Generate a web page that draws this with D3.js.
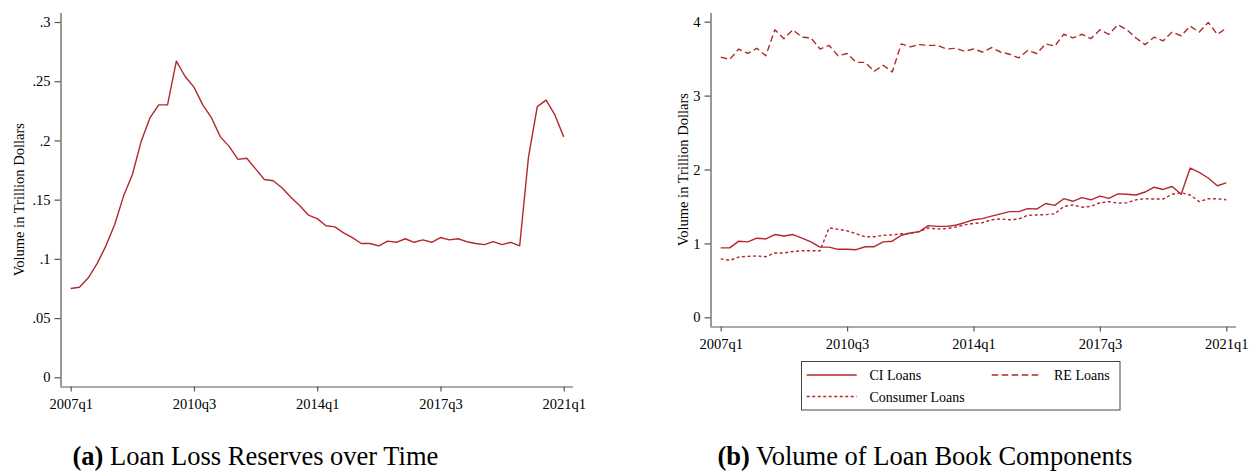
<!DOCTYPE html>
<html><head><meta charset="utf-8">
<script src="https://cdn.jsdelivr.net/npm/d3@7"></script>
<style>
body{margin:0;background:#fff;}
svg{display:block;font-family:"Liberation Serif","Times New Roman",serif;}
</style></head>
<body><svg id="c" width="1249" height="474"></svg>
<script>
const xTickLabels = ["2007q1","2010q3","2014q1","2017q3","2021q1"];
const xTickIdx = [0,14,28,42,56];
const leftYTicks = [0,0.05,0.1,0.15,0.2,0.25,0.3];
const leftYLabels = ["0",".05",".1",".15",".2",".25",".3"];
const rightYTicks = [0,1,2,3,4];

const lossReserves = [0.075,0.076,0.084,0.096,0.111,0.129,0.153,0.171,0.199,0.219,0.230,0.230,
 0.267,0.254,0.245,0.230,0.219,0.203,0.195,0.184,0.185,0.176,0.167,0.166,
 0.160,0.152,0.145,0.137,0.134,0.128,0.127,0.122,0.118,0.113,0.113,0.111,
 0.115,0.114,0.117,0.114,0.116,0.114,0.118,0.116,0.117,0.1145,0.113,0.112,
 0.1145,0.112,0.114,0.111,0.186,0.2285,0.234,0.2215,0.203];

const ciLoans = [0.94,0.94,1.03,1.02,1.07,1.06,1.12,1.10,1.12,1.07,1.02,0.95,
 0.95,0.92,0.92,0.915,0.955,0.955,1.02,1.03,1.11,1.14,1.16,1.24,
 1.23,1.23,1.245,1.28,1.32,1.335,1.37,1.40,1.43,1.43,1.47,1.465,
 1.54,1.515,1.605,1.57,1.62,1.59,1.64,1.61,1.67,1.665,1.655,1.695,
 1.76,1.73,1.77,1.665,2.02,1.96,1.885,1.78,1.82];

const reLoans = [3.52,3.49,3.63,3.57,3.64,3.54,3.89,3.77,3.89,3.79,3.78,3.63,
 3.68,3.54,3.57,3.45,3.45,3.33,3.41,3.32,3.70,3.66,3.69,3.68,
 3.68,3.63,3.64,3.60,3.63,3.59,3.65,3.59,3.56,3.51,3.61,3.57,
 3.70,3.67,3.83,3.78,3.83,3.77,3.89,3.83,3.96,3.89,3.78,3.69,
 3.79,3.74,3.86,3.81,3.94,3.86,3.99,3.83,3.91];

const consumerLoans = [0.79,0.77,0.815,0.825,0.83,0.82,0.87,0.87,0.89,0.90,0.90,0.90,
 1.21,1.19,1.17,1.13,1.09,1.09,1.11,1.115,1.13,1.135,1.16,1.21,
 1.195,1.20,1.22,1.25,1.27,1.28,1.32,1.33,1.32,1.33,1.38,1.385,
 1.39,1.40,1.50,1.52,1.49,1.50,1.55,1.565,1.545,1.55,1.59,1.605,
 1.60,1.60,1.665,1.685,1.655,1.565,1.605,1.605,1.59];

const seriesNames = ["CI Loans","RE Loans","Consumer Loans"];
const captions = [["(a)"," Loan Loss Reserves over Time"],["(b)"," Volume of Loan Book Components"]];

const RED = "#b3282d";
const AX = "#555";
const FS = "14.5px";
const svg = d3.select("#c");

function panel(cfg){
  const g = svg.append("g");
  const x = d3.scaleLinear().domain([0,56]).range([cfg.x0,cfg.x1]);
  const y = d3.scaleLinear().domain(cfg.ydom).range([cfg.y0,cfg.y1]);
  const xa = d3.axisBottom(x).tickValues(xTickIdx).tickFormat((d,i)=>xTickLabels[i]).tickSize(5).tickSizeOuter(0);
  const gx = g.append("g").attr("transform",`translate(0,${cfg.axisY})`).call(xa);
  gx.select(".domain").attr("d",`M${cfg.axisX},0.5H${cfg.axisRight}`);
  const ya = d3.axisLeft(y).tickValues(cfg.yticks).tickFormat((d,i)=>cfg.ylabels[i]).tickSize(6).tickSizeOuter(0);
  const gy = g.append("g").attr("transform",`translate(${cfg.axisX},0)`).call(ya);
  gy.select(".domain").attr("d",`M0.5,${cfg.axisTop}V${cfg.axisY}`);
  [gx,gy].forEach(a=>{
    a.attr("font-size",null).attr("font-family",null);
    a.selectAll("path,line").attr("stroke",AX).attr("stroke-width",1.2);
    a.selectAll("text").attr("fill","#000").style("font-size",FS).style("font-family","Liberation Serif");
  });
  gx.selectAll("text").attr("dy","1.0em");
  gy.selectAll("text").attr("x",-10);
  g.append("text").attr("transform",`translate(${cfg.ylabX},${(cfg.axisTop+cfg.axisY)/2}) rotate(-90)`)
    .attr("text-anchor","middle").style("font-size",FS).text("Volume in Trillion Dollars");
  return {g,x,y};
}

// Left panel
const L = panel({x0:70.7,x1:563.7,ydom:[0,0.3],y0:377.3,y1:22,axisY:386.5,axisX:60.5,axisRight:573,axisTop:13,
  yticks:leftYTicks,ylabels:leftYLabels,ylabX:24});
L.g.append("path").datum(lossReserves)
  .attr("d",d3.line().x((d,i)=>L.x(i)).y(d=>L.y(d)))
  .attr("fill","none").attr("stroke",RED).attr("stroke-width",1.4).attr("stroke-linejoin","round");

// Right panel
const R = panel({x0:720.7,x1:1226.3,ydom:[0,4],y0:317.3,y1:21.7,axisY:326.5,axisX:710.5,axisRight:1236,axisTop:13,
  yticks:rightYTicks,ylabels:rightYTicks.map(String),ylabX:688});
const dashes = ["none","6.5,3.5","3,2.5"];
const rSeries = [ciLoans,reLoans,consumerLoans];
const ln = d3.line().x((d,i)=>R.x(i)).y(d=>R.y(d));
rSeries.forEach((s,k)=>{
  R.g.append("path").datum(s).attr("d",ln).attr("fill","none").attr("stroke",RED)
    .attr("stroke-width",1.4).attr("stroke-dasharray",dashes[k]).attr("stroke-linejoin","round");
});

// Legend
const lg = svg.append("g");
lg.append("rect").attr("x",801.5).attr("y",361.5).attr("width",318.5).attr("height",48.5)
  .attr("fill","#fff").attr("stroke","#444").attr("stroke-width",1);
const legPos = [[806.7,375,869.5],[991.7,375,1054],[806.7,396.5,869.5]];
seriesNames.forEach((n,k)=>{
  const p = legPos[k];
  lg.append("line").attr("x1",p[0]).attr("x2",p[0]+50).attr("y1",p[1]).attr("y2",p[1])
    .attr("stroke",RED).attr("stroke-width",1.4).attr("stroke-dasharray",dashes[k]);
  lg.append("text").attr("x",p[2]).attr("y",p[1]+5).style("font-size","14px").text(n);
});

// Captions
const capPos = [[72.5,465],[717.5,465]];
captions.forEach((c,k)=>{
  const t = svg.append("text").attr("x",capPos[k][0]).attr("y",capPos[k][1]).style("font-size","26.5px");
  t.append("tspan").attr("font-weight","bold").text(c[0]);
  t.append("tspan").text(c[1]);
});
</script></body></html>
